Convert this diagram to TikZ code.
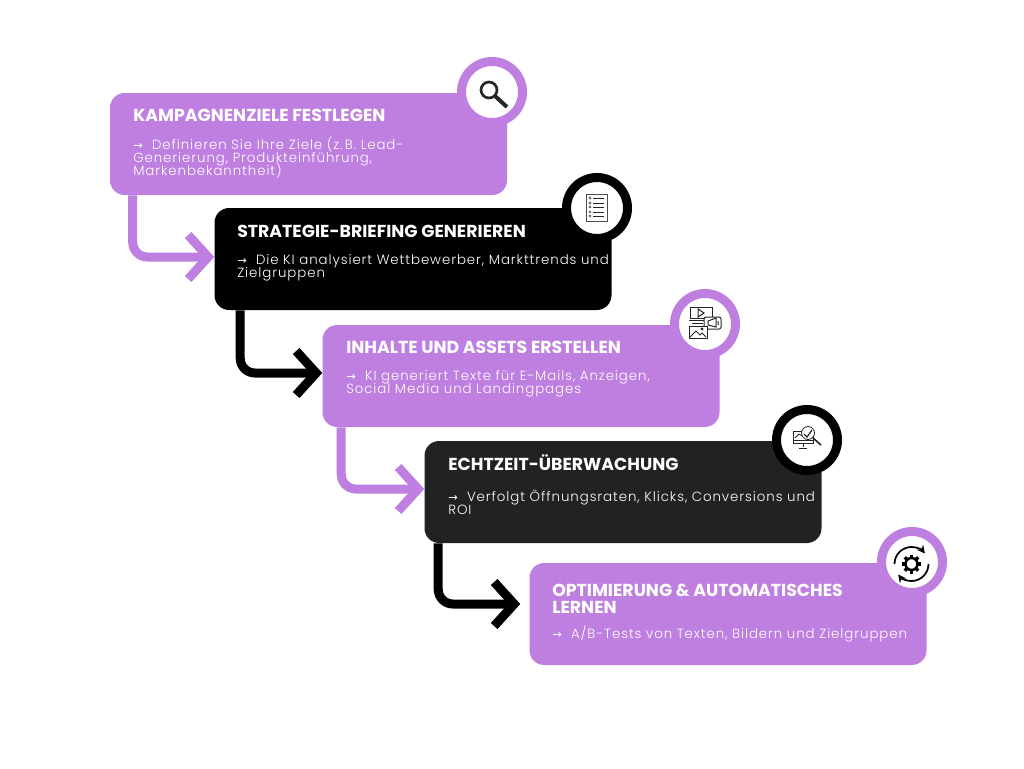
\documentclass[tikz,border=0pt]{standalone}
\usepackage{fontspec}
\usepackage{tikz}
\usetikzlibrary{arrows.meta,calc}
\newfontfamily\titlefont{Poppins}
\newfontfamily\bodyfont{Poppins Light}[LetterSpace=7]
\newfontfamily\arrowfont{DejaVu Sans}
\definecolor{lila}{HTML}{BF7FE0}
\definecolor{dunkel}{HTML}{222222}
\newcommand{\engzeilen}{\lineskiplimit=-20pt\relax}
\tikzset{box/.style={rectangle,rounded corners=11pt,minimum width=297.75pt,minimum height=76.5pt,inner sep=0pt,fill=#1}}
\tikzset{ring/.style={circle,draw=#1,line width=6.75pt,fill=white,minimum size=45.75pt,inner sep=0pt}}
\tikzset{titel/.style={anchor=west,align=left,inner sep=0pt,text=white,font=\titlefont\bfseries\fontsize{13}{12.7}\selectfont\engzeilen}}
\tikzset{inhalt/.style={anchor=west,align=left,inner sep=0pt,text=white,font=\bodyfont\fontsize{10}{9.75}\selectfont\engzeilen}}
\tikzset{pfeil/.style={line width=6.75pt,draw=#1,rounded corners=11pt,-{Straight Barb[length=15pt,width=33pt,line width=6.75pt]}}}
\tikzset{icon/.style={line width=.6pt,draw=black!85}}
\newcommand{\pf}{{\arrowfont\fontsize{8.5}{8.5}\selectfont→}\kern 3.5pt}
\begin{document}
\begin{tikzpicture}[x=.75pt,y=-.75pt]
\useasboundingbox (0,0) rectangle (1024,768);
%the five boxes
\node (ziele) at (308.5,144)[box=lila]{};
\node (briefing) at (413,259)[box=black]{};
\node (assets) at (521,376)[box=lila]{};
\node (monitoring) at (623,492)[box=dunkel]{};
\node (lernen) at (728,614)[box=lila]{};
%rings on the corners
\node (zielering) at (492,92)[ring=lila]{};
\node (briefingring) at (597,208)[ring=black]{};
\node (assetsring) at (705,324)[ring=lila]{};
\node (monitoringring) at (807,440)[ring=black]{};
\node (lernenring) at (912,562)[ring=lila]{};
%connectors
\draw[pfeil=lila] ($(ziele.south west)+(23,0)$) |- ($(briefing.west)+(0,-2)$);
\draw[pfeil=black] ($(briefing.south west)+(26,0)$) |- ($(assets.west)+(0,-3)$);
\draw[pfeil=lila] ($(assets.south west)+(19,0)$) |- ($(monitoring.west)+(0,-3)$);
\draw[pfeil=black] ($(monitoring.south west)+(14,0)$) |- ($(lernen.west)+(-9,-10)$);
%texts
\node (ziele1) at (133,115)[titel]{KAMPAGNENZIELE FESTLEGEN};
\node (ziele2) at (133,158)[inhalt]{\pf{} Definieren Sie Ihre Ziele (z.\,B. Lead-\\Generierung, Produkteinführung,\\Markenbekanntheit)};
\node (briefing1) at (237,231)[titel]{STRATEGIE-BRIEFING GENERIEREN};
\node (briefing2) at (237,268)[inhalt]{\pf{} Die KI analysiert Wettbewerber, Markttrends und\\Zielgruppen};
\node (assets1) at (346,347)[titel]{INHALTE UND ASSETS ERSTELLEN};
\node (assets2) at (346,384)[inhalt]{\pf{} KI generiert Texte für E-Mails, Anzeigen,\\Social Media und Landingpages};
\node (monitoring1) at (448,462.5)[titel]{ECHTZEIT-ÜBERWACHUNG};
\node (monitoring2) at (448,502.5)[inhalt]{\pf{} Verfolgt Öffnungsraten, Klicks, Conversions und\\ROI};
\node (lernen1) at (552,598.5)[titel]{OPTIMIERUNG \& AUTOMATISCHES\\LERNEN};
\node (lernen2) at (552,634)[inhalt]{\pf{} A/B-Tests von Texten, Bildern und Zielgruppen};
%magnifier
\draw[line width=2pt,draw=black!85] (489,90) circle (8);
\draw[line width=3pt,draw=black!85] (495,96) -- (507,107);
%checklist
\draw[line width=.5pt,draw=black!70] (586,194) rectangle (607,221);
\foreach \y in {198,203}{
\draw[line width=.4pt,draw=black!60,fill=black!50] (590,\y) circle (1.2);
}
\foreach \y in {207,212,216}{
\draw[line width=.4pt,draw=black!70] (590,\y) circle (1);
}
\foreach \y in {198,203,207,212,216}{
\draw[line width=.6pt,draw=black!85] (593,\y) -- (604,\y);
}
%media
\draw[line width=.75pt,draw=black!85] (690,307) rectangle (712,318);
\draw[line width=.75pt,draw=black!85] (698,309) -- (704,313) -- (698,317) -- cycle;
\draw[line width=.75pt,draw=black!85] (689,320) -- (704,320) (692,323) -- (703,323);
\draw[line width=.75pt,draw=black!85,fill=white,rounded corners=1.5pt] (704,317) rectangle (721,329);
\draw[line width=.75pt,draw=black!85] (708,321) -- (716,318) -- (716,327) -- (708,325) -- cycle (718,321) -- (718,325);
\draw[line width=.75pt,draw=black!85,fill=white] (689,326) rectangle (707,338);
\draw[line width=.75pt,draw=black!85] (690,337) -- (696,331) -- (700,335) -- (702,333) -- (706,337);
\draw[icon,fill=black!85] (702,329) circle (1.1);
%monitor
\draw[icon] (793,431) rectangle (813,443);
\draw[icon] (793,440) -- (813,440);
\draw[icon] (803,443) -- (803,447) (799,448) -- (807,448);
\draw[icon] (795,438) -- (799,434) -- (802,436) -- (805,433);
\draw[icon,fill=white] (808,433) circle (6.5);
\draw[line width=.9pt,draw=black!85] (804,434) -- (807,437) -- (812,430);
\draw[line width=1.2pt,draw=black!85] (813,438) -- (821,445);
%gear
\begin{scope}[shift={(911.5,564)}]
\draw[line width=1.8pt,draw=black] (0,0) circle (6);
\foreach \a in {0,45,...,315}{
\draw[line width=2.6pt,draw=black] (\a:6) -- (\a:9.5);
}
\draw[line width=1.3pt,draw=black,-{Stealth[length=6pt,width=6pt]}] (-17,0) arc (180:322:17);
\draw[line width=1.3pt,draw=black,-{Stealth[length=6pt,width=6pt]}] (17,0) arc (0:142:17);
\end{scope}
\end{tikzpicture}
\end{document}
